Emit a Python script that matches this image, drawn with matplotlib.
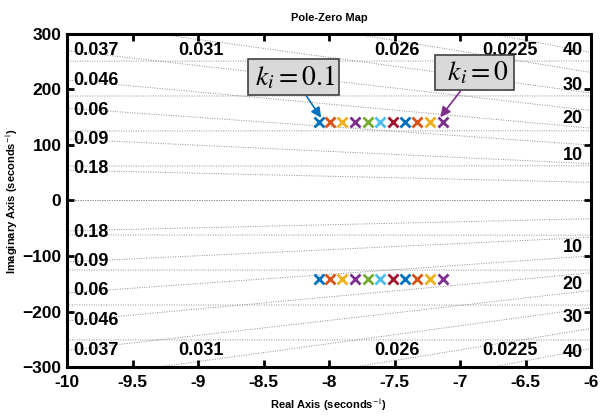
import numpy as np
import matplotlib.pyplot as plt

plt.rcParams['font.family'] = ['Liberation Sans', 'DejaVu Sans']
plt.rcParams['mathtext.fontset'] = 'stix'

# polos (parte real e imaginaria), ki de 0.1 a 0
pole_re = [-8.08, -7.99, -7.90, -7.80, -7.70, -7.61, -7.51, -7.42, -7.33, -7.23, -7.13]
pole_im = [142, 142, 142, 142, 142, 142, 142, 142, 142, 142, 142]
colores = ["#0072BD", "#D95319", "#EDB120", "#7E2F8E", "#77AC30", "#4DBEEE",
           "#A2142F", "#0072BD", "#D95319", "#EDB120", "#7E2F8E"]

# rejilla: amortiguamiento y frecuencia natural (Hz)
zetas = [0.0225, 0.026, 0.031, 0.037, 0.046, 0.06, 0.09, 0.18, 1.0]
frec_hz = [10, 20, 30, 40]

# etiquetas de amortiguamiento (texto, x, y)
zeta_lab_izq = [("0.037", -9.95, 270), ("0.046", -9.95, 216), ("0.06", -9.95, 162),
                ("0.09", -9.95, 110), ("0.18", -9.95, 58)]
zeta_lab_arr = [("0.031", -8.98, 270), ("0.026", -7.48, 270), ("0.0225", -6.62, 270)]
frec_lab = [("40", -6.14, 270), ("30", -6.14, 207), ("20", -6.14, 148), ("10", -6.14, 81)]

fig = plt.figure(figsize=(6, 4.18), dpi=100)
ax = fig.add_axes([0.1117, 0.122, 0.8733, 0.7967])

gcol = "#8c8c8c"
for z in zetas:
    ang = np.arccos(z)
    r = 1000
    for s in [1, -1]:
        ax.plot([0, -r * np.cos(ang)], [0, s * r * np.sin(ang)], ls=(0, (1, 1.5)), color=gcol, lw=0.7, zorder=1)

t = np.linspace(np.pi / 2, 3 * np.pi / 2, 2000)
for f in frec_hz:
    wn = 2 * np.pi * f
    ax.plot(wn * np.cos(t), wn * np.sin(t), ls=(0, (1, 1.5)), color=gcol, lw=0.7, zorder=1)

tk = dict(fontsize=13, fontweight="bold", va="center")
for txt, x, y in zeta_lab_izq:
    ax.text(x, y, txt, ha="left", **tk)
    ax.text(x, -y, txt, ha="left", **tk)
for txt, x, y in zeta_lab_arr:
    ax.text(x, y, txt, ha="center", **tk)
    ax.text(x, -y, txt, ha="center", **tk)
for txt, x, y in frec_lab:
    ax.text(x, y, txt, ha="center", **tk)
    ax.text(x, -y - 3, txt, ha="center", **tk)

for re, im, c in zip(pole_re, pole_im, colores):
    ax.plot(re, im, "x", color=c, ms=7, mew=2, zorder=3)
    ax.plot(re, -im, "x", color=c, ms=7, mew=2, zorder=3)

caja = dict(boxstyle="square,pad=0.15", fc="#d9d9d9", ec="#404040", lw=1.2)
ax.annotate(r"$\,k_i=0.1\,$", xy=(pole_re[0] + 0.02, pole_im[0] + 7), xytext=(-8.27, 222),
            fontsize=20, ha="center", va="center", bbox=caja,
            arrowprops=dict(arrowstyle="-|>", color=colores[0], lw=1.2, mutation_scale=15,
                            shrinkA=0, shrinkB=0))
ax.annotate(r"$\;\,k_i=0\;\,$", xy=(pole_re[-1] - 0.02, pole_im[-1] + 8), xytext=(-6.89, 230),
            fontsize=20, ha="center", va="center", bbox=caja,
            arrowprops=dict(arrowstyle="-|>", color=colores[-1], lw=1.2, mutation_scale=15,
                            shrinkA=0, shrinkB=0))

ax.set_xlim(-10, -6)
ax.set_ylim(-300, 300)
ax.set_xticks(np.arange(-10, -5.9, 0.5))
ax.set_xticklabels(["-10", "-9.5", "-9", "-8.5", "-8", "-7.5", "-7", "-6.5", "-6"])
ax.set_yticks(np.arange(-300, 301, 100))
ax.tick_params(direction="in", length=5, width=2, top=True, right=True, labelsize=12.5)
ax.tick_params(axis="x", pad=6)
ax.tick_params(axis="y", pad=4)
for lab in ax.get_xticklabels() + ax.get_yticklabels():
    lab.set_fontweight("bold")
for sp in ax.spines.values():
    sp.set_linewidth(2.2)

ax.set_title("Pole-Zero Map", fontsize=8, fontweight="bold", pad=9)
ax.set_xlabel("Real Axis (seconds$^{-1}$)", fontsize=8, fontweight="bold", labelpad=5)
ax.set_ylabel("Imaginary Axis (seconds$^{-1}$)", fontsize=8, fontweight="bold", labelpad=2)

fig.savefig("out.png", dpi=100)
